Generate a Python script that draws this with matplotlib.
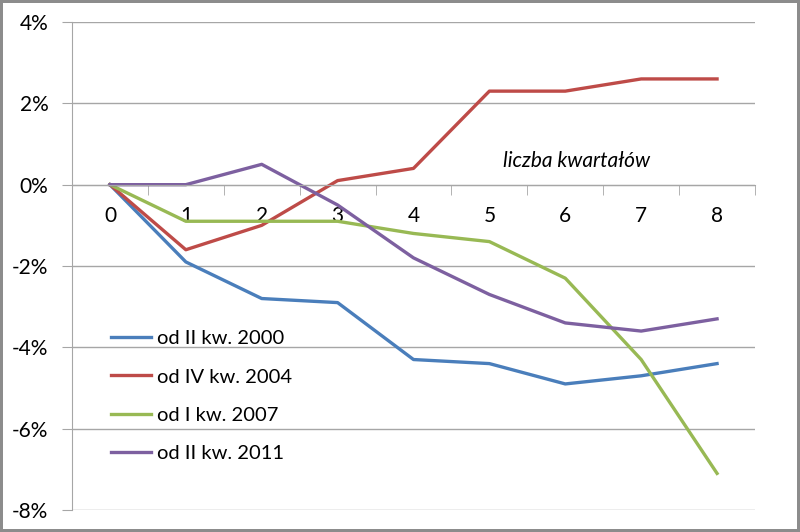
import matplotlib
matplotlib.use("Agg")
import matplotlib.pyplot as plt
from matplotlib.ticker import FuncFormatter, FixedLocator

quarters = [0, 1, 2, 3, 4, 5, 6, 7, 8]
labels = ["od II kw. 2000", "od IV kw. 2004", "od I kw. 2007", "od II kw. 2011"]
s2000 = [0, -1.9, -2.8, -2.9, -4.3, -4.4, -4.9, -4.7, -4.4]
s2004 = [0, -1.6, -1.0, 0.1, 0.4, 2.3, 2.3, 2.6, 2.6]
s2007 = [0, -0.9, -0.9, -0.9, -1.2, -1.4, -2.3, -4.3, -7.1]
s2011 = [0, 0, 0.5, -0.5, -1.8, -2.7, -3.4, -3.6, -3.3]
colors = ["#4A7EBB", "#BE4B48", "#98B954", "#7D60A0"]
yticks = [-8, -6, -4, -2, 0, 2, 4]

plt.rcParams['font.family'] = ['Lato', 'DejaVu Sans']

fig = plt.figure(figsize=(8, 5.32), dpi=100)
fig.patch.set_edgecolor('#8C8C8C')
fig.patch.set_linewidth(3)
ax = fig.add_axes([72/800, 1-510/532, (755-72)/800, (510-22)/532])

for s, c, l in zip([s2000, s2004, s2007, s2011], colors, labels):
    ax.plot(quarters, s, color=c, lw=2.4, label=l, solid_joinstyle='round')

ax.set_xlim(-0.5, 8.5)
ax.set_ylim(-8, 4)
ax.set_yticks(yticks)
ax.yaxis.set_major_formatter(FuncFormatter(lambda v, p: f"{int(v)}%"))
ax.grid(axis='y', color='#A6A6A6', lw=1)
ax.set_axisbelow(True)

for sp in ['top', 'right']:
    ax.spines[sp].set_visible(False)
ax.spines['left'].set_color('#A6A6A6')
ax.spines['bottom'].set_position(('data', 0))
ax.spines['bottom'].set_color('#A6A6A6')

ax.set_xticks(quarters)
ax.set_xticklabels([str(q) for q in quarters])
ax.xaxis.set_minor_locator(FixedLocator([q + 0.5 for q in [-1] + quarters]))
ax.tick_params(axis='x', which='major', length=0, pad=15, labelsize=15)
ax.tick_params(axis='x', which='minor', length=7, color='#A6A6A6', direction='out')
ax.tick_params(axis='y', length=7, color='#A6A6A6', labelsize=15, pad=10)

ax.text(0.739, 0.715, "liczba kwartałów", transform=ax.transAxes, ha='center',
        va='center', style='italic', fontsize=15)

leg = ax.legend(loc='upper left', bbox_to_anchor=(0.045, 0.385), frameon=False,
                fontsize=14.5, handlelength=2.0, handletextpad=0.3, labelspacing=1.05,
                borderaxespad=0)

fig.savefig("out.png", dpi=100)
